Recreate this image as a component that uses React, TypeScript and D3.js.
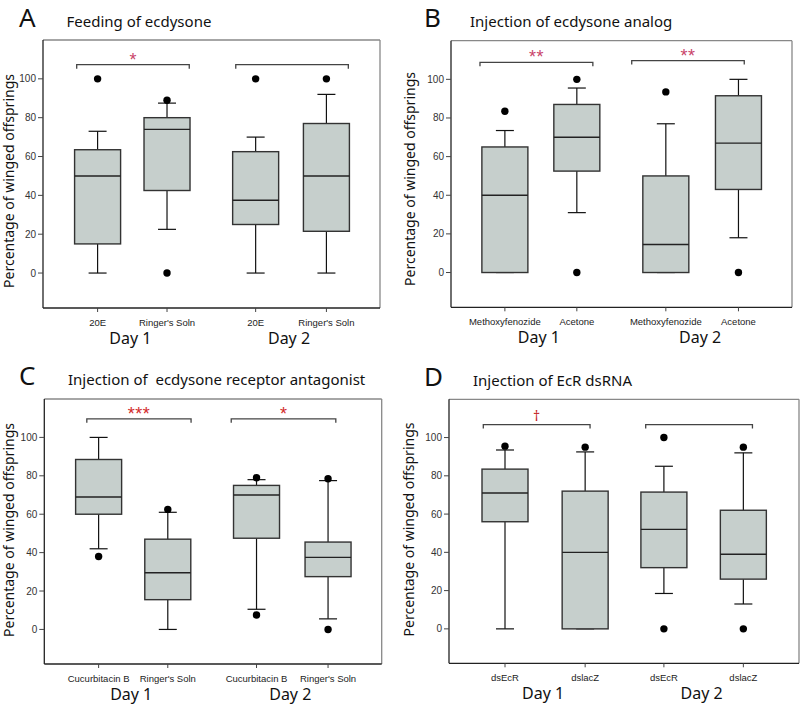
import React from 'react';
import * as d3 from 'd3';

// ---------- data ----------
const yTicks = [0, 20, 40, 60, 80, 100];
const dayLabels = ['Day 1', 'Day 2'];

// box stats: [lower whisker, Q1, median, Q3, upper whisker]
const categoriesA = ['20E', "Ringer's Soln", '20E', "Ringer's Soln"];
const boxesA = [[0, 15, 50, 63.5, 73], [22.5, 42.5, 74, 80, 87.5], [0, 25, 37.5, 62.5, 70], [0, 21.5, 50, 77, 92]];
const outliersA = [[100], [89, 0], [100], [100]];
const sigA = ['*', ''];

const categoriesB = ['Methoxyfenozide', 'Acetone', 'Methoxyfenozide', 'Acetone'];
const boxesB = [[0, 0, 40, 65, 73.5], [31, 52.5, 70, 87, 95.5], [0, 0, 14.5, 50, 77], [18, 43, 67, 91.5, 100]];
const outliersB = [[83.5], [100, 0], [93.5], [0]];
const sigB = ['**', '**'];

const categoriesC = ['Cucurbitacin B', "Ringer's Soln", 'Cucurbitacin B', "Ringer's Soln"];
const boxesC = [[42, 60, 69, 88.5, 100], [0, 15.5, 29.5, 47, 61], [10.5, 47.5, 70, 75, 78], [5.5, 27.5, 37.5, 45.5, 77.5]];
const outliersC = [[38], [62.5], [79, 7.5], [78.5, 0]];
const sigC = ['***', '*'];

const categoriesD = ['dsEcR', 'dslacZ', 'dsEcR', 'dslacZ'];
const boxesD = [[0, 56, 71, 83.5, 93.5], [0, 0, 40, 72, 92.5], [18.5, 32, 52, 71.5, 85], [13, 26, 39, 62, 92]];
const outliersD = [[95.5], [95], [100, 0], [95, 0]];
const sigD = ['\u2020', ''];

// ---------- layout ----------
const Y_DOMAIN: [number, number] = [-18, 120];
const FONT = "'Noto Sans', 'Open Sans', sans-serif";
const TICKFONT = "'Liberation Sans', Arial, sans-serif";
const BOX_FILL = '#c6cfcc';

type PanelCfg = {
  letter: string; title: string;
  categories: string[]; boxes: number[][]; outliers: number[][]; sig: string[];
  frame: { l: number; t: number; r: number; b: number };
  pos: number[]; brackets: number[][]; bracketY: number[];
  sigColor: string; letterPos: [number, number]; titleX: number;
  ylab: [number, number];
};

const panels: PanelCfg[] = [
  {
    letter: 'A', title: 'Feeding of ecdysone', categories: categoriesA, boxes: boxesA, outliers: outliersA, sig: sigA,
    frame: { l: 43, t: 40, r: 380, b: 308 }, pos: [0.162, 0.368, 0.631, 0.841],
    brackets: [[0.1, 0.434], [0.572, 0.906]], bracketY: [107.3, 107.3], sigColor: '#c9446a',
    letterPos: [19, 27], titleX: 66.5, ylab: [14, 181],
  },
  {
    letter: 'B', title: 'Injection of ecdysone analog', categories: categoriesB, boxes: boxesB, outliers: outliersB, sig: sigB,
    frame: { l: 451, t: 40.7, r: 792, b: 307.3 }, pos: [0.158, 0.369, 0.63, 0.843],
    brackets: [[0.085, 0.416], [0.53, 0.86]], bracketY: [108.8, 109.7], sigColor: '#c9446a',
    letterPos: [424, 27], titleX: 470, ylab: [415, 179],
  },
  {
    letter: 'C', title: 'Injection of  ecdysone receptor antagonist', categories: categoriesC, boxes: boxesC, outliers: outliersC, sig: sigC,
    frame: { l: 44.3, t: 399, r: 381.7, b: 664 }, pos: [0.161, 0.366, 0.629, 0.841],
    brackets: [[0.126, 0.435], [0.554, 0.864]], bracketY: [109.7, 109.7], sigColor: '#d22b2b',
    letterPos: [19, 385], titleX: 68, ylab: [14, 530],
  },
  {
    letter: 'D', title: 'Injection of EcR dsRNA', categories: categoriesD, boxes: boxesD, outliers: outliersD, sig: sigD,
    frame: { l: 449, t: 399.3, r: 799, b: 663.3 }, pos: [0.16, 0.389, 0.614, 0.841],
    brackets: [[0.098, 0.403], [0.562, 0.867]], bracketY: [106.8, 106.8], sigColor: '#c41e1e',
    letterPos: [424, 386], titleX: 473, ylab: [414, 529.5],
  },
];

function Panel({ cfg }: { cfg: PanelCfg }) {
  const { l, t, r, b } = cfg.frame;
  const x = d3.scaleLinear().domain([0, 1]).range([l, r]);
  const y = d3.scaleLinear().domain(Y_DOMAIN).range([b, t]);
  const bw = 46;
  const cap = 18;
  return (
    <g>
      <text x={cfg.letterPos[0]} y={cfg.letterPos[1]} fontFamily={FONT} fontSize={26} fill="#111">{cfg.letter}</text>
      <text x={cfg.titleX} y={cfg.letterPos[1]} fontFamily={FONT} fontSize={15} fill="#111" style={{ whiteSpace: 'pre' }}>{cfg.title}</text>
      {/* frame */}
      <line x1={l} x2={r} y1={t} y2={t} stroke="#888" strokeWidth={1.3} />
      <line x1={r} x2={r} y1={t} y2={b} stroke="#888" strokeWidth={1.3} />
      <line x1={l} x2={l} y1={t} y2={b} stroke="#222" strokeWidth={1.3} />
      <line x1={l} x2={r} y1={b} y2={b} stroke="#222" strokeWidth={1.3} />
      {/* y axis */}
      {yTicks.map((v) => (
        <g key={v}>
          <line x1={l - 5} x2={l} y1={y(v)} y2={y(v)} stroke="#444" strokeWidth={1} />
          <text x={l - 7} y={y(v)} dy="0.35em" textAnchor="end" fontFamily={TICKFONT} fontSize={10} fill="#333">{v}</text>
        </g>
      ))}
      <text transform={`translate(${cfg.ylab[0]},${cfg.ylab[1]}) rotate(-90)`} textAnchor="middle" fontFamily={FONT} fontSize={14} fill="#111">
        Percentage of winged offsprings
      </text>
      {/* x axis */}
      {cfg.categories.map((c, i) => (
        <g key={i}>
          <line x1={x(cfg.pos[i])} x2={x(cfg.pos[i])} y1={b} y2={b + 4} stroke="#444" strokeWidth={1} />
          <text x={x(cfg.pos[i])} y={b + 17.5} textAnchor="middle" fontFamily={TICKFONT} fontSize={9.5} fill="#222">{c}</text>
        </g>
      ))}
      {dayLabels.map((d, i) => (
        <text key={d} x={(x(cfg.pos[2 * i]) + x(cfg.pos[2 * i + 1])) / 2 - 2} y={b + 35.5} textAnchor="middle" fontFamily={FONT} fontSize={16} fill="#111">{d}</text>
      ))}
      {/* boxes */}
      {cfg.boxes.map((s, i) => {
        const cx = x(cfg.pos[i]);
        const [lo, q1, med, q3, hi] = s;
        return (
          <g key={i}>
            {hi > q3 && <line x1={cx} x2={cx} y1={y(q3)} y2={y(hi)} stroke="#111" strokeWidth={1.2} />}
            {lo < q1 && <line x1={cx} x2={cx} y1={y(q1)} y2={y(lo)} stroke="#111" strokeWidth={1.2} />}
            <line x1={cx - cap / 2} x2={cx + cap / 2} y1={y(hi)} y2={y(hi)} stroke="#111" strokeWidth={1.2} />
            <line x1={cx - cap / 2} x2={cx + cap / 2} y1={y(lo)} y2={y(lo)} stroke="#111" strokeWidth={1.2} />
            <rect x={cx - bw / 2} y={y(q3)} width={bw} height={y(q1) - y(q3)} fill={BOX_FILL} stroke="#333" strokeWidth={1.4} />
            <line x1={cx - bw / 2} x2={cx + bw / 2} y1={y(med)} y2={y(med)} stroke="#222" strokeWidth={1.4} />
            {cfg.outliers[i].map((o, k) => (
              <circle key={k} cx={cx} cy={y(o)} r={3.7} fill="#000" />
            ))}
          </g>
        );
      })}
      {/* significance brackets */}
      {cfg.brackets.map((br, i) => {
        const x1 = x(br[0]);
        const x2 = x(br[1]);
        const yy = y(cfg.bracketY[i]);
        const dag = cfg.sig[i] === '\u2020';
        return (
          <g key={i}>
            <path d={`M${x1},${yy + 4}V${yy}H${x2}V${yy + 4}`} fill="none" stroke="#444" strokeWidth={1.3} />
            {cfg.sig[i] && (
              <text x={(x1 + x2) / 2} y={dag ? yy - 4 : yy + 1} textAnchor="middle" fontFamily={dag ? FONT : TICKFONT} fontSize={dag ? 14 : 18} fill={cfg.sigColor} letterSpacing={cfg.sig[i].length > 1 ? 0.5 : 0}>
                {cfg.sig[i]}
              </text>
            )}
          </g>
        );
      })}
    </g>
  );
}

export default function App() {
  return (
    <svg width={800} height={705} style={{ position: 'absolute', left: 0, top: 0, display: 'block', background: '#fff' }}>
      <rect width={800} height={705} fill="#fff" />
      {panels.map((p) => (
        <Panel key={p.letter} cfg={p} />
      ))}
    </svg>
  );
}
